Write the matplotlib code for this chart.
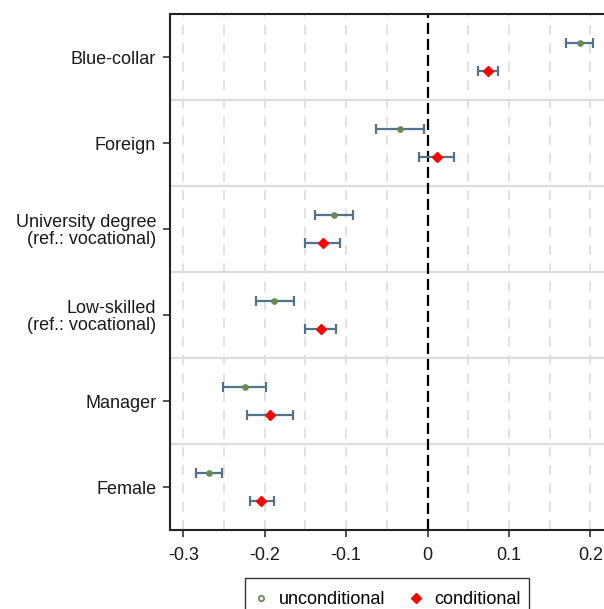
import numpy as np
import matplotlib.pyplot as plt
from matplotlib.lines import Line2D
from matplotlib.patches import Rectangle

plt.rcParams['font.family'] = ['Liberation Sans', 'DejaVu Sans']

# Coefficients with 95% CIs, listed top to bottom
categories = ["Blue-collar", "Foreign", "University degree\n(ref.: vocational)",
              "Low-skilled\n(ref.: vocational)", "Manager", "Female"]

uncond = [0.187, -0.034, -0.115, -0.188, -0.224, -0.269]
uncond_lo = [0.170, -0.063, -0.138, -0.211, -0.251, -0.285]
uncond_hi = [0.203, -0.004, -0.091, -0.164, -0.198, -0.253]

cond = [0.074, 0.011, -0.129, -0.131, -0.194, -0.204]
cond_lo = [0.062, -0.010, -0.150, -0.151, -0.222, -0.218]
cond_hi = [0.086, 0.033, -0.107, -0.112, -0.165, -0.189]

n = len(categories)
ypos = np.arange(n)[::-1]          # first category on top
off = 0.165

fig = plt.figure(figsize=(6.04, 6.09), dpi=100)
ax = fig.add_axes([0.2815, 0.1297, 0.7185, 0.8473])

# background grid: dashed verticals every 0.05, solid separators between groups
for gx in np.arange(-0.30, 0.2001, 0.05):
    if abs(gx) < 1e-9:
        continue
    ax.axvline(gx, color='#dddddd', lw=1.2, ls=(0, (6, 5)), zorder=0)
for sy in np.arange(0.5, n - 1, 1.0):
    ax.axhline(sy, color='#dcdcdc', lw=1.6, zorder=0)
ax.axvline(0, color='black', lw=1.6, ls=(0, (5, 2.2)), zorder=1)

def draw(vals, lo, hi, dy, **kw):
    vals = np.array(vals)
    xerr = [vals - np.array(lo), np.array(hi) - vals]
    ax.errorbar(vals, ypos + dy, xerr=xerr, fmt='none', ecolor='#52738c',
                elinewidth=1.6, capsize=3.4, capthick=1.6, zorder=2)
    ax.plot(vals, ypos + dy, ls='none', zorder=3, **kw)

draw(uncond, uncond_lo, uncond_hi, off, marker='o', ms=3.8,
     color='#6b8a52', label='unconditional')
draw(cond, cond_lo, cond_hi, -off, marker='D', ms=5,
     color='#ff0000', label='conditional')

ax.set_xlim(-0.3163, 0.2167)
ax.set_ylim(-0.5, n - 0.5)
ax.set_xticks([-0.3, -0.2, -0.1, 0, 0.1, 0.2])
ax.set_xticklabels(['-0.3', '-0.2', '-0.1', '0', '0.1', '0.2'])
ax.set_yticks(ypos)
ax.set_yticklabels(categories, ha='right', linespacing=1.0)
ax.tick_params(axis='both', labelsize=13, length=5, width=1.2, color='#333333',
               labelcolor='#1a1a1a')
ax.tick_params(axis='x', pad=7)
ax.tick_params(axis='y', pad=5)

for side in ['left', 'bottom', 'top']:
    ax.spines[side].set_linewidth(1.5)
    ax.spines[side].set_color('#222222')
ax.spines['right'].set_visible(False)

# legend with hollow circle for the unconditional estimates
handles = [
    Line2D([], [], ls='none', marker='o', ms=3.8, mfc='white', mec='#6b8a52', mew=1.3),
    Line2D([], [], ls='none', marker='D', ms=5, color='#ff0000'),
]
leg = ax.legend(handles, ['unconditional', 'conditional'], loc='upper center',
                bbox_to_anchor=(0.5, -0.103), ncol=2, fontsize=13,
                frameon=False, handlelength=0.8,
                handletextpad=0.6, columnspacing=1.3, borderpad=0.45,
                borderaxespad=0)

# frame drawn by hand: extra room above the entries, runs off the bottom edge
fig.canvas.draw()
bb = leg.get_window_extent().transformed(fig.transFigure.inverted())
top = bb.y1 + 5 / fig.bbox.height
fig.add_artist(Rectangle((bb.x0, bb.y0 - 0.05), bb.width, top - bb.y0 + 0.05,
                         transform=fig.transFigure, fill=False,
                         edgecolor='#333333', lw=1.0))

fig.savefig('out.png', dpi=100)
